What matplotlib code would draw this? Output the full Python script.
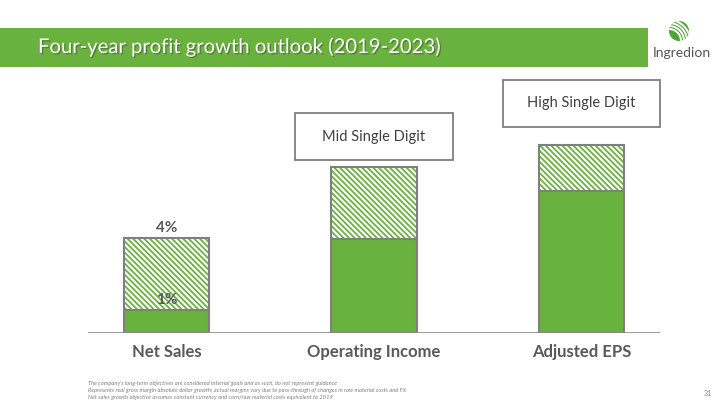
import numpy as np
import matplotlib.pyplot as plt
import matplotlib.patheffects as pe
from matplotlib.patches import Rectangle, Circle, Arc

plt.rcParams['font.family'] = ['Lato', 'DejaVu Sans']
plt.rcParams['hatch.linewidth'] = 1.3

categories = ['Net Sales', 'Operating Income', 'Adjusted EPS']
base_values = [23, 94, 142]      # solid part
outlook_values = [95, 166, 188]  # top of hatched part
outlook_labels = [None, 'Mid Single Digit', 'High Single Digit']
net_sales_labels = ['1%', '4%']
footnotes = [
    "The company's long-term objectives are considered internal goals and as such, do not represent guidance",
    "Represents real gross margin absolute dollar growth; actual margins vary due to pass-through of changes in raw material costs and FX",
    "Net sales growth objective assumes constant currency and corn/raw material costs equivalent to 2019",
]

green = '#6AB23E'
gray_edge = '#7F7F7F'
text_gray = '#595959'

W, H = 720, 405
fig = plt.figure(figsize=(7.2, 4.05), dpi=100)

# header band
fig.patches.append(Rectangle((0, 1 - 67 / H), 648 / W, 39 / H, transform=fig.transFigure,
                             facecolor=green, edgecolor='none', zorder=0))
fig.text(38 / W, 1 - 47 / H, 'Four-year profit growth outlook (2019-2023)', color='white',
         fontsize=14.6, va='center', ha='left',
         path_effects=[pe.withSimplePatchShadow(offset=(1, -1), shadow_rgbFace='#333333', alpha=0.4)])

# logo
lax = fig.add_axes([650 / W, 1 - 65 / H, 64 / W, 50 / H])
lax.set_xlim(0, 64)
lax.set_ylim(0, 50)
lax.axis('off')
disc = Circle((29, 34), 10, facecolor='#4FA432', edgecolor='none')
lax.add_patch(disc)
for r in [12, 15, 18, 21]:
    a = Arc((19, 24), 2 * r, 2 * r, theta1=0, theta2=90, color='white', linewidth=1.4)
    lax.add_patch(a)
    a.set_clip_path(disc)
lax.text(32, 12, 'Ingredion', ha='center', va='center', fontsize=10, color='#555555')

# main axes
ax = fig.add_axes([88 / W, 1 - 333 / H, 572 / W, 263 / H])
x = np.arange(len(categories))
width = 0.41
tops = np.array(outlook_values) - np.array(base_values)

ax.bar(x, base_values, width, color=green, edgecolor='none', zorder=2)
ax.bar(x, tops, width, bottom=base_values, color='white', edgecolor=green,
       hatch='\\' * 6, linewidth=0, zorder=2)
ax.bar(x, outlook_values, width, color='none', edgecolor=gray_edge, linewidth=1.5, zorder=3)
ax.hlines(base_values, x - width / 2, x + width / 2, color=gray_edge, linewidth=1.5, zorder=3)

ax.set_xlim(-0.378, 2.378)
ax.set_ylim(0, 263)
ax.axhline(0, color='#8C8C8C', linewidth=1.2, zorder=4)
for s in ax.spines.values():
    s.set_visible(False)
ax.set_yticks([])
ax.set_xticks(x)
ax.set_xticklabels(categories, fontsize=12, fontweight='bold', color=text_gray)
ax.tick_params(axis='x', length=0, pad=8)

# net sales labels
ax.text(x[0], base_values[0] + 3, net_sales_labels[0], ha='center', va='bottom',
        fontsize=11, fontweight='bold', color=text_gray, zorder=5)
ax.text(x[0], outlook_values[0] + 3, net_sales_labels[1], ha='center', va='bottom',
        fontsize=11, fontweight='bold', color=text_gray, zorder=5)

# outlook boxes
box_w = 0.76
box_h = 47
for i, lab in enumerate(outlook_labels):
    if lab is None:
        continue
    y0 = outlook_values[i] + 7 if i == 1 else outlook_values[i] + 18
    ax.add_patch(Rectangle((x[i] - box_w / 2, y0), box_w, box_h, facecolor='white',
                           edgecolor=gray_edge, linewidth=1.3, zorder=3, clip_on=False))
    ax.text(x[i], y0 + box_h / 2, lab, ha='center', va='center', fontsize=10.5,
            color='#404040', zorder=4)

# footnotes
for j, note in enumerate(footnotes):
    fig.text(88 / W, 1 - (383 + j * 7) / H, note, fontsize=4.15, style='italic',
             color='#7F7F7F', va='center', ha='left')
fig.text(708 / W, 1 - 393 / H, '31', fontsize=5, color='#7F7F7F', ha='center', va='center')

fig.savefig('out.png', dpi=100)
